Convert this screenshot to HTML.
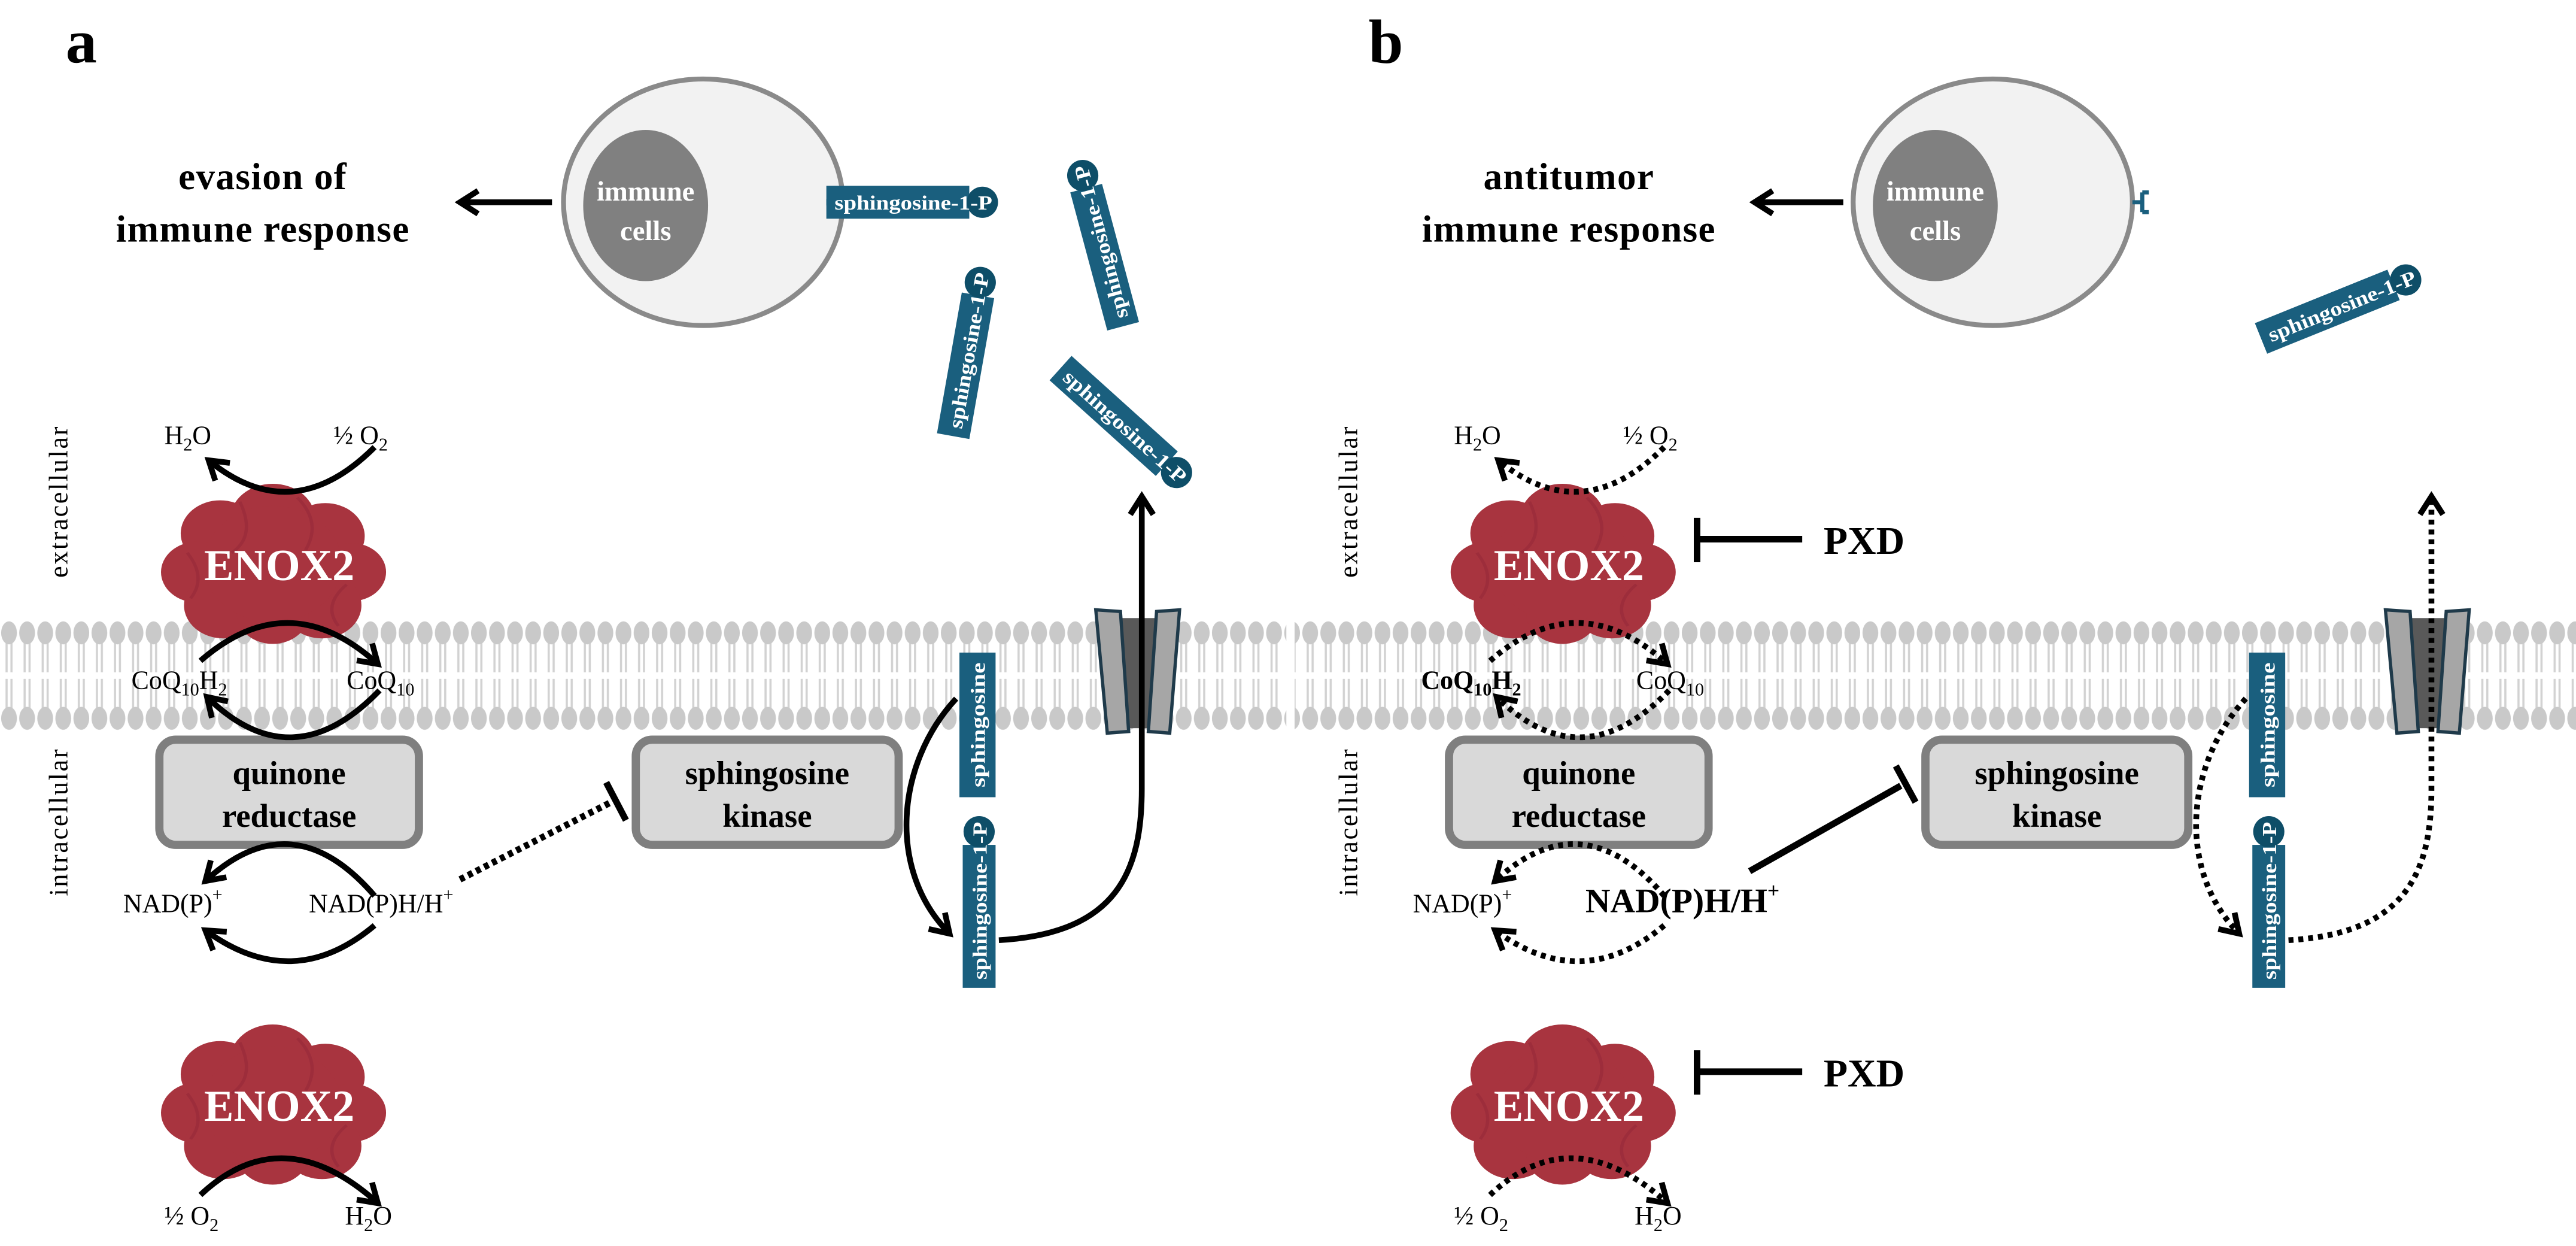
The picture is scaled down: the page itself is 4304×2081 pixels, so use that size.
<!DOCTYPE html>
<html><head><meta charset="utf-8"><style>
html,body{margin:0;padding:0;background:#fff;}
svg{display:block;}
text{font-family:"Liberation Serif",serif;}
</style></head><body>
<svg width="4304" height="2081" viewBox="0 0 1568 758" xmlns="http://www.w3.org/2000/svg">
<defs>
<marker id="ah" markerUnits="userSpaceOnUse" markerWidth="30" markerHeight="30" viewBox="-15 -15 30 30" refX="0" refY="0" orient="auto">
<path d="M -11 -7 L 0 0 L -11 7" fill="none" stroke="#000" stroke-width="3.5"/>
</marker>
<pattern id="mem" x="0" y="375" width="11" height="72" patternUnits="userSpaceOnUse">
<line x1="4" y1="16" x2="4" y2="34" stroke="#d2d2d2" stroke-width="1.3"/>
<line x1="7" y1="16" x2="7" y2="34" stroke="#d2d2d2" stroke-width="1.3"/>
<line x1="4" y1="38" x2="4" y2="56" stroke="#d2d2d2" stroke-width="1.3"/>
<line x1="7" y1="38" x2="7" y2="56" stroke="#d2d2d2" stroke-width="1.3"/>
<ellipse cx="5.5" cy="10" rx="4.8" ry="7" fill="#c9c9c9"/>
<ellipse cx="5.5" cy="62" rx="4.8" ry="7" fill="#c9c9c9"/>
</pattern>
<g id="cloud">
<g transform="scale(1,0.84)">
<g fill="#a8343f">
<circle cx="0" cy="-32" r="26"/><circle cx="-32" cy="-22" r="24"/><circle cx="32" cy="-20" r="24"/>
<circle cx="-46" cy="6" r="22"/><circle cx="48" cy="6" r="21"/><circle cx="-30" cy="30" r="24"/>
<circle cx="30" cy="30" r="24"/><circle cx="0" cy="36" r="22"/><circle cx="0" cy="0" r="42"/>
</g>
<g fill="none" stroke="#96293a" stroke-width="2" opacity="0.6">
<path d="M -20 -45 Q -10 -20 -25 -8"/><path d="M 15 -48 Q 30 -30 20 -10"/><path d="M -52 -8 Q -40 10 -50 25"/><path d="M 45 15 Q 30 30 40 45"/>
</g>
</g>
</g>
<g id="s1p">
<rect x="-45" y="-10" width="87" height="20" fill="#1a5f7e"/>
<circle cx="50" cy="0" r="9.5" fill="#0e4e68"/>
<text x="-40" y="4.5" font-size="12.5" font-weight="bold" fill="#fff" textLength="96" lengthAdjust="spacingAndGlyphs">sphingosine-1-P</text>
</g>
<g id="sph">
<rect x="-44" y="-11" width="88" height="22" fill="#1a5f7e"/>
<text x="0" y="4.5" font-size="12.5" font-weight="bold" fill="#fff" text-anchor="middle" textLength="76" lengthAdjust="spacingAndGlyphs">sphingosine</text>
</g>
<g id="chan">
<rect x="682" y="376" width="22" height="67" fill="#595959"/>
<polygon points="667,371 682,372 687,445 674,446" fill="#a6a6a6" stroke="#1f3a4a" stroke-width="2"/>
<polygon points="704,372 718,371 712,446 699,445" fill="#a6a6a6" stroke="#1f3a4a" stroke-width="2"/>
</g>
<g id="boxes">
<rect x="97" y="450" width="158" height="64" rx="10" fill="#d9d9d9" stroke="#7f7f7f" stroke-width="5"/>
<text x="176" y="477" font-size="20" font-weight="bold" text-anchor="middle">quinone</text>
<text x="176" y="503" font-size="20" font-weight="bold" text-anchor="middle">reductase</text>
<rect x="387" y="450" width="160" height="64" rx="10" fill="#d9d9d9" stroke="#7f7f7f" stroke-width="5"/>
<text x="467" y="477" font-size="20" font-weight="bold" text-anchor="middle">sphingosine</text>
<text x="467" y="503" font-size="20" font-weight="bold" text-anchor="middle">kinase</text>
<use href="#cloud" transform="translate(166,343)"/>
<text x="170" y="353" font-size="27" font-weight="bold" fill="#fff" text-anchor="middle">ENOX2</text>
<use href="#cloud" transform="translate(166,672)"/>
<text x="170" y="682" font-size="27" font-weight="bold" fill="#fff" text-anchor="middle">ENOX2</text>
<text transform="translate(41,305) rotate(-90)" font-size="16" text-anchor="middle" letter-spacing="1">extracellular</text>
<text transform="translate(41,500) rotate(-90)" font-size="16" text-anchor="middle" letter-spacing="1">intracellular</text>
<text x="100" y="270" font-size="16">H<tspan font-size="11" dy="4">2</tspan><tspan dy="-4">O</tspan></text>
<text x="203" y="270" font-size="16">½ O<tspan font-size="11" dy="4">2</tspan></text>
<text x="100" y="745" font-size="16">½ O<tspan font-size="11" dy="4">2</tspan></text>
<text x="210" y="745" font-size="16">H<tspan font-size="11" dy="4">2</tspan><tspan dy="-4">O</tspan></text>
<text x="211" y="419" font-size="16">CoQ<tspan font-size="11" dy="4">10</tspan></text>
<text x="75" y="555" font-size="16">NAD(P)<tspan font-size="11" dy="-7">+</tspan></text>
<use href="#sph" transform="translate(595,441) rotate(-90)"/>
<use href="#s1p" transform="translate(596,556) rotate(-90)"/>
<use href="#chan"/>
<ellipse cx="428" cy="123" rx="85" ry="75" fill="#f2f2f2" stroke="#8a8a8a" stroke-width="3"/>
<ellipse cx="393" cy="125" rx="38" ry="46" fill="#808080"/>
<text x="393" y="122" font-size="17" font-weight="bold" fill="#fff" text-anchor="middle">immune</text>
<text x="393" y="146" font-size="17" font-weight="bold" fill="#fff" text-anchor="middle">cells</text>
</g>
</defs>

<rect x="0" y="375" width="783" height="72" fill="url(#mem)"/>
<rect x="788" y="375" width="780" height="72" fill="url(#mem)"/>

<text x="40" y="38" font-size="38" font-weight="bold">a</text>
<text x="833" y="38" font-size="38" font-weight="bold">b</text>

<!-- PANEL A -->
<use href="#boxes"/>
<text x="160" y="115" font-size="23" font-weight="bold" text-anchor="middle" letter-spacing="0.5">evasion of</text>
<text x="160" y="147" font-size="23" font-weight="bold" text-anchor="middle" letter-spacing="0.5">immune response</text>
<line x1="336" y1="123" x2="280" y2="123" stroke="#000" stroke-width="3.5" marker-end="url(#ah)"/>
<line x1="512" y1="123" x2="503" y2="123" stroke="#1a5f7e" stroke-width="4"/>
<use href="#s1p" transform="translate(548,123)"/>
<use href="#s1p" transform="translate(588,221) rotate(-80)"/>
<use href="#s1p" transform="translate(672,155) rotate(-105)"/>
<use href="#s1p" transform="translate(679,254) rotate(42)"/>
<text x="80" y="419" font-size="16">CoQ<tspan font-size="11" dy="4">10</tspan><tspan dy="-4">H</tspan><tspan font-size="11" dy="4">2</tspan></text>
<text x="188" y="555" font-size="16">NAD(P)H/H<tspan font-size="11" dy="-7">+</tspan></text>
<g fill="none" stroke="#000" stroke-width="3.5" marker-end="url(#ah)">
<path d="M 228 272 Q 178 322 127 280"/>
<path d="M 122 402 Q 176 355 230 404"/>
<path d="M 231 420 Q 178 475 126 424"/>
<path d="M 228 545 Q 178 487 125 536"/>
<path d="M 228 563 Q 178 605 125 566"/>
<path d="M 122 727 Q 172 680 230 732"/>
<path d="M 582 425 C 545 465 540 530 578 568"/>
<path d="M 608 572 C 680 568 695 530 695 480 L 695 302"/>
</g>
<line x1="280" y1="535" x2="372" y2="488" stroke="#000" stroke-width="4" stroke-dasharray="3 2.5"/>
<line x1="369" y1="476" x2="381" y2="499" stroke="#000" stroke-width="4"/>

<!-- PANEL B -->
<g transform="translate(785,0)"><use href="#boxes"/></g>
<text x="955" y="115" font-size="23" font-weight="bold" text-anchor="middle" letter-spacing="0.5">antitumor</text>
<text x="955" y="147" font-size="23" font-weight="bold" text-anchor="middle" letter-spacing="0.5">immune response</text>
<line x1="1122" y1="123" x2="1068" y2="123" stroke="#000" stroke-width="3.5" marker-end="url(#ah)"/>
<path d="M 1298 123 L 1304 123 M 1304 117 L 1304 129 M 1304 117 L 1308 117 M 1304 129 L 1308 129" stroke="#1a5f7e" stroke-width="2.5" fill="none"/>
<use href="#s1p" transform="translate(1418,189) rotate(-22)"/>
<text x="865" y="419" font-size="16" font-weight="bold">CoQ<tspan font-size="11" dy="4">10</tspan><tspan dy="-4">H</tspan><tspan font-size="11" dy="4">2</tspan></text>
<text x="965" y="555" font-size="21" font-weight="bold">NAD(P)H/H<tspan font-size="13" dy="-9">+</tspan></text>
<g fill="none" stroke="#000" stroke-width="3.5" stroke-dasharray="3 3" marker-end="url(#ah)">
<path d="M 1013 272 Q 963 322 912 280"/>
<path d="M 907 402 Q 961 355 1015 404"/>
<path d="M 1016 420 Q 963 475 911 424"/>
<path d="M 1013 545 Q 963 487 910 536"/>
<path d="M 1013 563 Q 963 605 910 566"/>
<path d="M 907 727 Q 957 680 1015 732"/>
<path d="M 1367 425 C 1330 465 1325 530 1363 568"/>
<path d="M 1393 572 C 1465 568 1480 530 1480 480 L 1480 302"/>
</g>
<line x1="1065" y1="530" x2="1157" y2="478" stroke="#000" stroke-width="4"/>
<line x1="1154" y1="466" x2="1166" y2="488" stroke="#000" stroke-width="4"/>
<line x1="1097" y1="328" x2="1033" y2="328" stroke="#000" stroke-width="4"/>
<line x1="1033" y1="315" x2="1033" y2="342" stroke="#000" stroke-width="4"/>
<text x="1110" y="337" font-size="24" font-weight="bold">PXD</text>
<line x1="1097" y1="652" x2="1033" y2="652" stroke="#000" stroke-width="4"/>
<line x1="1033" y1="639" x2="1033" y2="666" stroke="#000" stroke-width="4"/>
<text x="1110" y="661" font-size="24" font-weight="bold">PXD</text>
</svg>
</body></html>
